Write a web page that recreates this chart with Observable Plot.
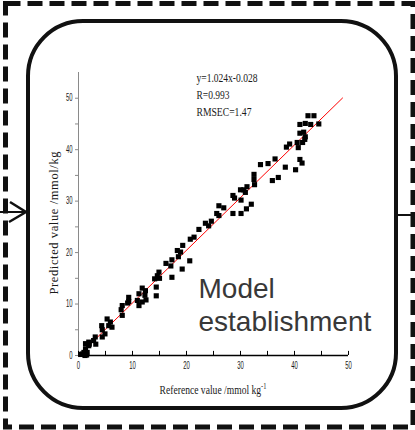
<!DOCTYPE html>
<html><head><meta charset="utf-8">
<script src="https://cdn.jsdelivr.net/npm/d3@7"></script>
<script src="https://cdn.jsdelivr.net/npm/@observablehq/plot@0.6"></script>
<style>html,body{margin:0;padding:0;background:#fff;} svg{display:block}</style>
</head><body><div id="chart"></div>
<script>
// Reference (x) and predicted (y) values
const refX = [42.5,43.6,41.0,42.0,43.0,44.5,41.0,41.7,42.0,41.9,40.5,41.5,38.5,39.1,40.7,41.0,41.4,40.2,38.3,36.4,35.1,33.7,37.0,35.9,
  32.5,32.5,32.6,31.2,30.6,30.9,30.0,28.6,28.9,30.1,32.0,31.1,30.1,28.6,26.0,26.9,25.6,26.0,23.5,24.1,24.6,22.3,
  21.4,20.7,19.3,18.3,18.9,18.5,20.6,17.3,16.2,17.1,19.2,14.9,14.6,14.1,15.0,17.3,14.4,14.4,
  11.8,12.4,12.3,11.2,10.9,11.8,11.2,12.5,9.3,9.3,9.1,8.1,7.9,8.1,5.3,5.9,6.2,5.6,4.3,4.4,4.9,4.4,3.1,2.8,3.2,1.9,1.3,1.9,1.3,1.0,1.6,0.7,0.4,1.2,1.5,2.0];
const predY = [46.6,46.6,44.9,45.1,44.9,45.0,43.2,43.4,42.5,42.0,41.4,41.4,40.5,41.1,40.4,38.1,37.4,36.1,36.6,38.2,37.3,37.1,34.6,34.0,
  35.2,34.2,33.2,32.8,32.2,31.7,32.2,31.1,30.6,30.2,29.4,28.5,27.6,27.6,29.1,28.7,27.6,27.2,25.7,25.2,26.1,24.5,
  23.0,22.6,21.4,20.4,20.1,19.2,18.4,18.6,17.9,17.4,16.8,16.2,15.5,14.9,15.0,15.2,13.3,11.6,
  13.1,12.6,11.7,12.0,10.7,10.4,9.7,10.8,11.3,10.5,10.2,9.7,8.9,7.8,7.1,6.5,5.5,5.8,5.8,5.0,4.2,3.6,3.6,2.9,2.2,2.6,2.3,1.9,1.3,0.6,0.6,0.3,0.2,0.0,0.1,2.2];

// Fit line
const fitSlope = 1.024;
const fitIntercept = -0.028;
const fitRange = [0, 48.9];

// Texts
const statsLines = ["y=1.024x-0.028", "R=0.993", "RMSEC=1.47"];
const stageLabel = ["Model", "establishment"];
const xTitle = "Reference value /mmol kg";
const xTitleSup = "-1";
const yTitle = "Predicted value /mmol/kg";

// Ticks
const xTickLabels = [0, 10, 20, 30, 40, 50];
const yTickLabels = [0, 10, 20, 30, 40, 50];
const xTickMarks = [0, 5, 10, 15, 20, 25, 30, 35, 40, 45, 50];
const yTickMarks = [0, 5, 10, 15, 20, 25, 30, 35, 40, 45, 50];

const points = refX.map((x, i) => ({x, y: predY[i]}));
const fit = fitRange.map(x => ({x, y: fitSlope * x + fitIntercept}));

const serif = "'Liberation Serif', 'Times New Roman', serif";

const plot = Plot.plot({
  width: 415, height: 430,
  marginLeft: 78, marginRight: 67, marginTop: 72, marginBottom: 75,
  style: {fontFamily: "'Liberation Sans', Arial, sans-serif", fontSize: "10px", background: "white", overflow: "visible"},
  x: {domain: [0, 50]},
  y: {domain: [0, 55]},
  marks: [
    Plot.ruleX([0], {stroke: "#8a8a8a", strokeWidth: 1}),
    Plot.axisY(yTickMarks, {tickSize: 3, text: null, stroke: "#8a8a8a", label: null}),
    Plot.axisY(yTickLabels, {tickSize: 0, tickPadding: 6, color: "#1a1a1a", label: null}),
    Plot.axisX(xTickLabels, {tickSize: 0, tickPadding: 6, color: "#1a1a1a", label: null}),
    Plot.ruleX(xTickMarks, {y1: 0, y2: 0.8, stroke: "black"}),
    Plot.ruleY([0], {stroke: "black", strokeWidth: 1.5}),
    Plot.line(fit, {x: "x", y: "y", stroke: "#ff0000", strokeWidth: 1}),
    Plot.dot(points, {x: "x", y: "y", symbol: "square", r: 2.9, fill: "black", stroke: "none"}),
    ...statsLines.map((s, i) => Plot.text([s], {frameAnchor: "top-left", dx: 118, dy: 1 + i * 17, lineAnchor: "top", textAnchor: "start", fontFamily: serif, fontSize: 12, fill: "#1a1a1a"})),
    Plot.text([stageLabel.join("\n")], {frameAnchor: "top-left", dx: 120, dy: 202, lineAnchor: "top", textAnchor: "start", fontSize: 28, lineHeight: 1.18, fill: "#383838"})
  ]
});

document.getElementById("chart").append(plot);
const svg = d3.select(plot);

// condense tick labels like the reference
svg.selectAll("g[aria-label='y-axis tick label'] text, g[aria-label='x-axis tick label'] text").each(function() {
  const t = this.textContent;
  if (t.length) { this.setAttribute("textLength", 3.3 * t.length); this.setAttribute("lengthAdjust", "spacingAndGlyphs"); }
});
const statWidths = {"y=1.024x-0.028": 61, "R=0.993": 33, "RMSEC=1.47": 55};
svg.selectAll("text").each(function() {
  const w = statWidths[this.textContent];
  if (w) { this.setAttribute("textLength", w); this.setAttribute("lengthAdjust", "spacingAndGlyphs"); }
});

// axis titles
svg.append("text")
  .attr("transform", "translate(58,223) rotate(-90)")
  .attr("text-anchor", "middle")
  .attr("font-family", serif).attr("font-size", 12.5).attr("fill", "#1a1a1a")
  .attr("textLength", 143).attr("lengthAdjust", "spacing")
  .text(yTitle);
const xt = svg.append("g").attr("transform", "translate(213,394) scale(0.8,1)")
  .append("text").attr("text-anchor", "middle")
  .attr("font-family", serif).attr("font-size", 12).attr("fill", "#1a1a1a");
xt.append("tspan").text(xTitle);
xt.append("tspan").attr("dy", -5).attr("font-size", 8).text(xTitleSup);

// frame decorations
svg.append("rect").attr("x", 5.5).attr("y", 3.5).attr("width", 407.5).attr("height", 423.5)
  .attr("fill", "none").attr("stroke", "#111").attr("stroke-width", 5).attr("stroke-dasharray", "15 7");
svg.append("rect").attr("x", 28).attr("y", 21).attr("width", 368).attr("height", 387).attr("rx", 55).attr("ry", 55)
  .attr("fill", "none").attr("stroke", "#111").attr("stroke-width", 4);
svg.append("path").attr("d", "M0,212H26").attr("stroke", "#111").attr("stroke-width", 2).attr("fill", "none");
svg.append("path").attr("d", "M10,202L26,212L9,222").attr("stroke", "#111").attr("stroke-width", 2.5).attr("fill", "none");
svg.append("path").attr("d", "M396,215H413").attr("stroke", "#111").attr("stroke-width", 2).attr("fill", "none");
</script>
</body></html>
